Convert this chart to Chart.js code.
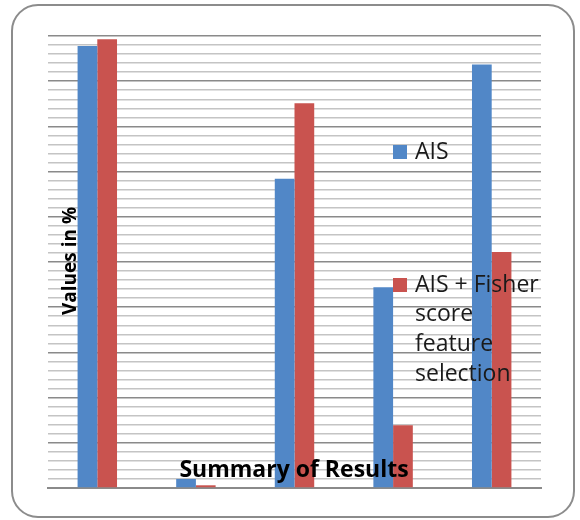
<!DOCTYPE html>
<html>
<head>
<meta charset="utf-8">
<script src="https://cdn.jsdelivr.net/npm/chart.js@4.4.1/dist/chart.umd.min.js"></script>
<style>
  html, body { margin: 0; padding: 0; background: #fff; }
  #wrap { width: 580px; height: 520px; }
</style>
</head>
<body>
<div id="wrap"><canvas id="resultsChart" width="580" height="520"></canvas></div>
<script>
// Chart data (values in %)
const categories = ['Result 1', 'Result 2', 'Result 3', 'Result 4', 'Result 5'];
const aisValues = [97.8, 2.0, 68.4, 44.4, 93.7];
const fisherValues = [99.3, 0.6, 85.1, 13.9, 52.2];
const seriesNames = ['AIS', 'AIS + Fisher score feature selection'];
const chartTitle = 'Summary of Results';
const yAxisTitle = 'Values in %';

const blue = '#5187C7';
const red = '#C9534F';
const fontFamily = '"Open Sans", "Liberation Sans", sans-serif';

// Rounded frame round the whole chart
const framePlugin = {
  id: 'frame',
  beforeDraw(chart) {
    const ctx = chart.ctx;
    ctx.save();
    ctx.fillStyle = '#fff';
    ctx.fillRect(0, 0, chart.width, chart.height);
    ctx.strokeStyle = '#8c8c8c';
    ctx.lineWidth = 2;
    ctx.beginPath();
    ctx.roundRect(12, 5, 562, 512, 26);
    ctx.stroke();
    ctx.restore();
  }
};

// Word wrap helper for the legend text
function wrapText(ctx, text, maxWidth) {
  const words = text.split(' ');
  const lines = [];
  let line = '';
  for (const word of words) {
    const test = line ? line + ' ' + word : word;
    if (line && ctx.measureText(test).width > maxWidth) {
      lines.push(line);
      line = word;
    } else {
      line = test;
    }
  }
  if (line) lines.push(line);
  return lines;
}

// Titles and legend drawn over the plot, like the original
const overlayPlugin = {
  id: 'overlay',
  afterDraw(chart) {
    const ctx = chart.ctx;
    ctx.save();
    ctx.fillStyle = '#000';

    // chart title near the bottom of the plot
    ctx.font = 'bold 23px ' + fontFamily;
    ctx.textAlign = 'center';
    ctx.textBaseline = 'alphabetic';
    ctx.fillText(chartTitle, 294, 477);

    // y axis title, rotated
    ctx.save();
    ctx.translate(71, 261);
    ctx.rotate(-Math.PI / 2);
    ctx.font = 'bold 19px ' + fontFamily;
    ctx.textBaseline = 'middle';
    ctx.fillText(yAxisTitle, 0, 0);
    ctx.restore();

    // legend
    ctx.font = '23px ' + fontFamily;
    ctx.textAlign = 'left';
    ctx.textBaseline = 'middle';
    const entryTops = [152, 285];
    chart.data.datasets.forEach((ds, i) => {
      const y = entryTops[i];
      ctx.fillStyle = ds.backgroundColor;
      ctx.fillRect(393, y - 7, 14, 14);
      ctx.fillStyle = '#1a1a1a';
      const lines = wrapText(ctx, ds.label, 135);
      lines.forEach((ln, j) => ctx.fillText(ln, 415, y + j * 29.7));
    });
    ctx.restore();
  }
};

const ctx = document.getElementById('resultsChart').getContext('2d');
const chart = new Chart(ctx, {
  type: 'bar',
  data: {
    labels: categories,
    datasets: [
      { label: seriesNames[0], data: aisValues, backgroundColor: blue },
      { label: seriesNames[1], data: fisherValues, backgroundColor: red }
    ]
  },
  options: {
    responsive: false,
    animation: false,
    categoryPercentage: 0.4,
    barPercentage: 1.0,
    layout: {
      padding: { left: 48, right: 39, top: 36, bottom: 32 }
    },
    plugins: {
      legend: { display: false },
      title: { display: false },
      tooltip: { enabled: false }
    },
    scales: {
      x: {
        grid: { display: false, drawTicks: false },
        ticks: { display: false },
        border: { display: true, color: '#8a8a8a', width: 2 }
      },
      y: {
        min: 0,
        max: 100,
        ticks: { display: false, stepSize: 2 },
        border: { display: false },
        grid: {
          drawTicks: false,
          lineWidth: 1.5,
          color: c => (c.tick && Math.round(c.tick.value) % 10 === 0) ? '#8a8a8a' : '#c4c4c4'
        }
      }
    }
  },
  plugins: [framePlugin, overlayPlugin]
});
</script>
</body>
</html>
